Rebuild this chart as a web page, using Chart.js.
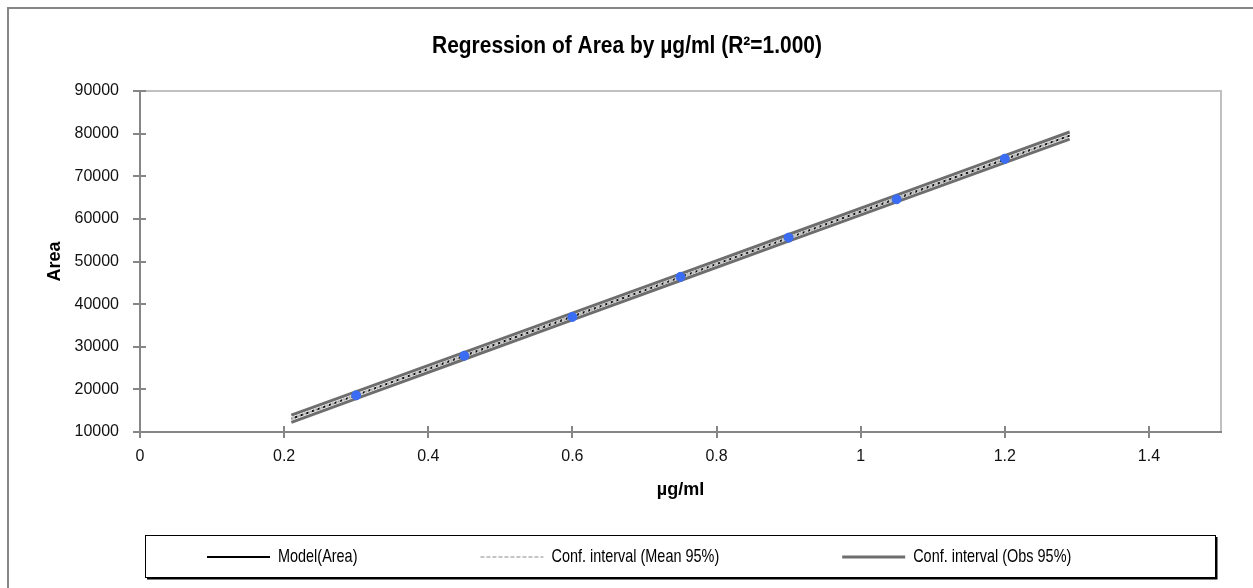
<!DOCTYPE html>
<html>
<head>
<meta charset="utf-8">
<title>Regression of Area by µg/ml</title>
<script src="https://cdn.jsdelivr.net/npm/chart.js@4.4.1/dist/chart.umd.min.js"></script>
<style>
  html, body { margin: 0; padding: 0; background: #fff; }
  #wrap { width: 1253px; height: 588px; }
</style>
</head>
<body>
<div id="wrap"><canvas id="chart" width="1253" height="588"></canvas></div>
<script>
/* Regression plot: observations, model line and both 95% bands */

// observed points
const obsX = [0.3, 0.45, 0.6, 0.75, 0.9, 1.05, 1.2];
const obsArea = [18600, 27900, 37000, 46400, 55600, 64600, 74100];

// x positions where the model and bands are drawn
const curveX = [0.21, 0.3, 0.45, 0.6, 0.75, 0.9, 1.05, 1.2, 1.29];
const modelArea = [13115, 18650, 27875, 37100, 46325, 55550, 64775, 74000, 79535];
const meanUpper = [13300, 18810, 28010, 37220, 46445, 55680, 64910, 74160, 79720];
const meanLower = [12930, 18490, 27740, 36980, 46205, 55420, 64640, 73840, 79350];
const obsUpper  = [13960, 19470, 28680, 37890, 47110, 56340, 65580, 74820, 80380];
const obsLower  = [12270, 17830, 27070, 36310, 45540, 54760, 63970, 73180, 78690];

const xTicks = [0, 0.2, 0.4, 0.6, 0.8, 1, 1.2, 1.4];
const yTicks = [10000, 20000, 30000, 40000, 50000, 60000, 70000, 80000, 90000];

const chartTitle = 'Regression of Area by µg/ml (R²=1.000)';
const xTitle = 'µg/ml';
const yTitle = 'Area';
const legendLabels = ['Model(Area)', 'Conf. interval (Mean 95%)', 'Conf. interval (Obs 95%)'];

const AXIS_GRAY = '#868686';
const REGULAR = "'Liberation Sans', Arial, sans-serif";

function toPoints(xs, ys) {
  return xs.map((x, i) => ({ x, y: ys[i] }));
}

// legend sample styles, same order as legendLabels
const legendStyles = [
  { color: '#000000', width: 2, dash: [] },
  { color: '#c4c4c4', width: 2, dash: [4, 2] },
  { color: '#6e6e6e', width: 3, dash: [] },
];

// no narrow font installed, so squeeze the regular one horizontally
function narrowText(ctx, text, x, y, sx) {
  ctx.save();
  ctx.translate(x, y);
  ctx.scale(sx, 1);
  ctx.fillText(text, 0, 0);
  ctx.restore();
  return ctx.measureText(text).width * sx;
}

const decor = {
  id: 'decor',
  beforeDraw(chart) {
    const { ctx, chartArea: a } = chart;
    ctx.save();
    ctx.fillStyle = '#fff';
    ctx.fillRect(0, 0, chart.width, chart.height);
    // outer frame (cut at right and bottom like the source)
    ctx.strokeStyle = AXIS_GRAY;
    ctx.lineWidth = 2;
    ctx.strokeRect(8, 8, chart.width + 20, chart.height + 20);
    // light top / right border of the plot area
    ctx.strokeStyle = '#c0c0c0';
    ctx.beginPath();
    ctx.moveTo(a.left, a.top);
    ctx.lineTo(a.right, a.top);
    ctx.lineTo(a.right, a.bottom);
    ctx.stroke();
    ctx.restore();
  },
  afterDraw(chart) {
    const { ctx, chartArea: a, scales } = chart;
    ctx.save();

    // cross tick marks
    ctx.strokeStyle = AXIS_GRAY;
    ctx.lineWidth = 2;
    ctx.beginPath();
    xTicks.forEach((v) => {
      const px = Math.round(scales.x.getPixelForValue(v));
      ctx.moveTo(px, a.bottom - 6);
      ctx.lineTo(px, a.bottom + 6);
    });
    yTicks.forEach((v) => {
      const py = Math.round(scales.y.getPixelForValue(v));
      ctx.moveTo(a.left - 7, py);
      ctx.lineTo(a.left + 6, py);
    });
    ctx.stroke();

    // titles
    ctx.fillStyle = '#000';
    ctx.textBaseline = 'middle';
    ctx.textAlign = 'center';
    ctx.font = `bold 24px ${REGULAR}`;
    narrowText(ctx, chartTitle, 627, 46, 390 / ctx.measureText(chartTitle).width);
    ctx.font = `bold 18px ${REGULAR}`;
    ctx.fillText(xTitle, (a.left + a.right) / 2, 490);
    ctx.save();
    ctx.translate(55, (a.top + a.bottom) / 2);
    ctx.rotate(-Math.PI / 2);
    ctx.fillText(yTitle, 0, 0);
    ctx.restore();

    // legend box with a dark shadow edge
    const box = { left: 145, top: 535, right: 1215, bottom: 577 };
    ctx.strokeStyle = '#000';
    ctx.lineWidth = 1;
    ctx.strokeRect(box.left + 0.5, box.top + 0.5, box.right - box.left, box.bottom - box.top);
    ctx.lineWidth = 2;
    ctx.beginPath();
    ctx.moveTo(box.left + 2, box.bottom + 1.5);
    ctx.lineTo(box.right + 1.5, box.bottom + 1.5);
    ctx.lineTo(box.right + 1.5, box.top + 2);
    ctx.stroke();

    const midY = (box.top + box.bottom) / 2 + 1;
    ctx.font = `19px ${REGULAR}`;
    ctx.textAlign = 'left';
    let x = box.left + 62;
    legendLabels.forEach((label, i) => {
      const st = legendStyles[i];
      ctx.strokeStyle = st.color;
      ctx.lineWidth = st.width;
      ctx.setLineDash(st.dash);
      ctx.beginPath();
      ctx.moveTo(x, midY);
      ctx.lineTo(x + 63, midY);
      ctx.stroke();
      ctx.setLineDash([]);
      x += 71;
      ctx.fillStyle = '#000';
      x += narrowText(ctx, label, x, midY, 0.76) + 123;
    });
    ctx.restore();
  },
};

const lineSet = (label, ys, color, width, dash) => ({
  label,
  data: toPoints(curveX, ys),
  showLine: true,
  borderColor: color,
  borderWidth: width,
  borderDash: dash,
  pointRadius: 0,
  fill: false,
  tension: 0,
});

new Chart(document.getElementById('chart'), {
  type: 'scatter',
  data: {
    datasets: [
      {
        label: 'Area',
        data: toPoints(obsX, obsArea),
        backgroundColor: '#3a6cf4',
        borderColor: '#3a6cf4',
        pointRadius: 4.5,
      },
      lineSet(legendLabels[1], meanUpper, '#c8c8c8', 1.5, [4, 2]),
      lineSet(legendLabels[1], meanLower, '#c8c8c8', 1.5, [4, 2]),
      lineSet(legendLabels[0], modelArea, '#000000', 2, []),
      lineSet(legendLabels[2], obsUpper, '#6e6e6e', 3, []),
      lineSet(legendLabels[2], obsLower, '#6e6e6e', 3, []),
    ],
  },
  options: {
    responsive: false,
    animation: false,
    layout: { padding: { top: 91, left: 0, right: 32, bottom: 0 } },
    plugins: {
      legend: { display: false },
      title: { display: false },
      tooltip: { enabled: false },
    },
    scales: {
      x: {
        type: 'linear',
        min: 0,
        max: 1.5,
        grid: { display: false },
        border: { display: true, color: AXIS_GRAY, width: 2 },
        afterBuildTicks: (scale) => { scale.ticks = xTicks.map((v) => ({ value: v })); },
        afterFit: (scale) => { scale.height = 156; },
        ticks: {
          padding: 7,
          color: '#111',
          font: { family: REGULAR, size: 16 },
          callback: (v) => String(v),
        },
      },
      y: {
        min: 10000,
        max: 90000,
        grid: { display: false },
        border: { display: true, color: AXIS_GRAY, width: 2 },
        afterBuildTicks: (scale) => { scale.ticks = yTicks.map((v) => ({ value: v })); },
        afterFit: (scale) => { scale.width = 140; },
        ticks: {
          padding: 13,
          color: '#111',
          font: { family: REGULAR, size: 16 },
          callback: (v) => String(v),
        },
      },
    },
  },
  plugins: [decor],
});
</script>
</body>
</html>
